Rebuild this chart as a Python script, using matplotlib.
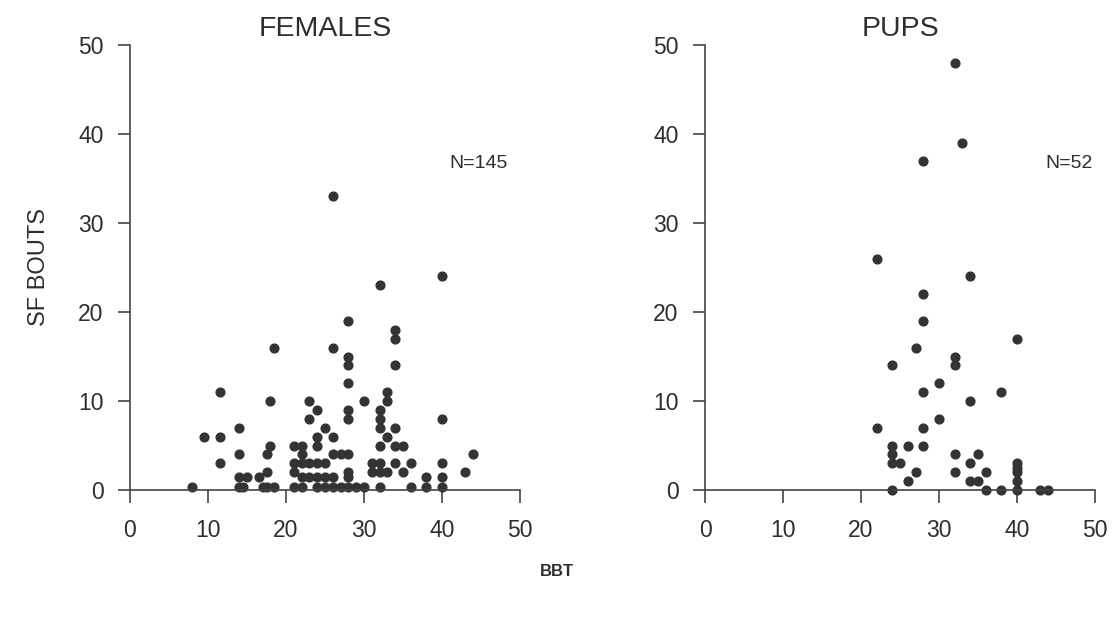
import matplotlib
matplotlib.use("Agg")
import matplotlib.pyplot as plt

plt.rcParams['font.family'] = ['Liberation Sans', 'DejaVu Sans']

# females: BBT vs SF bouts
fem_bbt = [8, 9.5, 11.5, 11.5, 11.5, 14, 14, 14, 15, 14, 14.5,
           16.5, 17.5, 17.5, 18, 18, 18.5, 17, 17.5, 18.5,
           21, 21, 21, 21,
           22, 22, 22, 22, 22,
           23, 23, 23, 23,
           24, 24, 24, 24, 24, 24,
           25, 25, 25, 25,
           26, 26, 26, 26, 26, 26,
           27, 27,
           28, 28, 28, 28, 28, 28, 28, 28, 28, 28,
           29, 30, 30, 31, 31,
           32, 32, 32, 32, 32, 32, 32, 32,
           33, 33, 33, 33,
           34, 34, 34, 34, 34, 34,
           35, 35, 36, 36, 38, 38,
           40, 40, 40, 40, 40,
           43, 44]
fem_bouts = [0.3, 6, 11, 6, 3, 7, 4, 1.5, 1.5, 0.3, 0.3,
             1.5, 2, 4, 5, 10, 16, 0.3, 0.3, 0.3,
             5, 3, 2, 0.3,
             5, 4, 3, 1.5, 0.3,
             10, 8, 3, 1.5,
             9, 6, 5, 3, 1.5, 0.3,
             7, 3, 1.5, 0.3,
             33, 16, 6, 4, 1.5, 0.3,
             4, 0.3,
             19, 15, 14, 12, 9, 8, 4, 2, 1.5, 0.3,
             0.3, 10, 0.3, 3, 2,
             23, 9, 8, 7, 5, 3, 2, 0.3,
             11, 10, 6, 2,
             18, 17, 14, 7, 5, 3,
             5, 2, 3, 0.3, 1.5, 0.3,
             24, 8, 3, 1.5, 0.3,
             2, 4]

# pups
pup_bbt = [32, 33, 28,
           22, 34, 28, 28, 40, 27, 32, 32, 24,
           30, 28, 38, 34, 30, 22, 28,
           24, 24, 24, 25, 26, 28, 27, 26, 24,
           32, 32, 35, 34, 36, 34, 35, 36, 38,
           40, 40, 40, 40, 40,
           43, 44]
pup_bouts = [48, 39, 37,
             26, 24, 22, 19, 17, 16, 15, 14, 14,
             12, 11, 11, 10, 8, 7, 7,
             5, 4, 3, 3, 5, 5, 2, 1, 0,
             4, 2, 4, 3, 2, 1, 1, 0, 0,
             3, 2.5, 2, 1, 0,
             0, 0]

ink = '#2e2e2e'
W, H = 1113, 621
fig = plt.figure(figsize=(W / 100, H / 100), dpi=100)

panels = [(130, 'FEMALES', fem_bbt, fem_bouts, 'N=145', 41),
          (705, 'PUPS', pup_bbt, pup_bouts, 'N=52', 43.6)]

for x0, title, xs, ys, ntxt, nx in panels:
    ax = fig.add_axes([x0 / W, 1 - 490 / H, 390 / W, 445 / H])
    ax.plot(xs, ys, 'o', ms=6.3, color='#333333', clip_on=False)
    ax.set_xlim(0, 50)
    ax.set_ylim(0, 50)
    ax.set_xticks(range(0, 51, 10))
    ax.set_yticks(range(0, 51, 10))
    for s in ['top', 'right']:
        ax.spines[s].set_visible(False)
    for s in ['left', 'bottom']:
        ax.spines[s].set_color('#444444')
        ax.spines[s].set_linewidth(1.2)
    ax.tick_params(direction='out', length=9, width=1.2, color='#444444',
                   labelsize=16.5, labelcolor=ink)
    ax.tick_params(axis='y', pad=10)
    ax.tick_params(axis='x', pad=12)
    ax.set_title(title, fontsize=20.5, color=ink, pad=6.5)
    ax.text(nx, 36.7, ntxt, fontsize=14, color=ink, va='center')
    if x0 == 130:
        ax.set_ylabel('SF BOUTS', fontsize=17, color=ink, labelpad=20)

fig.text(557 / W, 1 - 572 / H, 'BBT', fontsize=12, fontweight='bold',
         color=ink, ha='center', va='center')

fig.savefig('out.png', dpi=100)
